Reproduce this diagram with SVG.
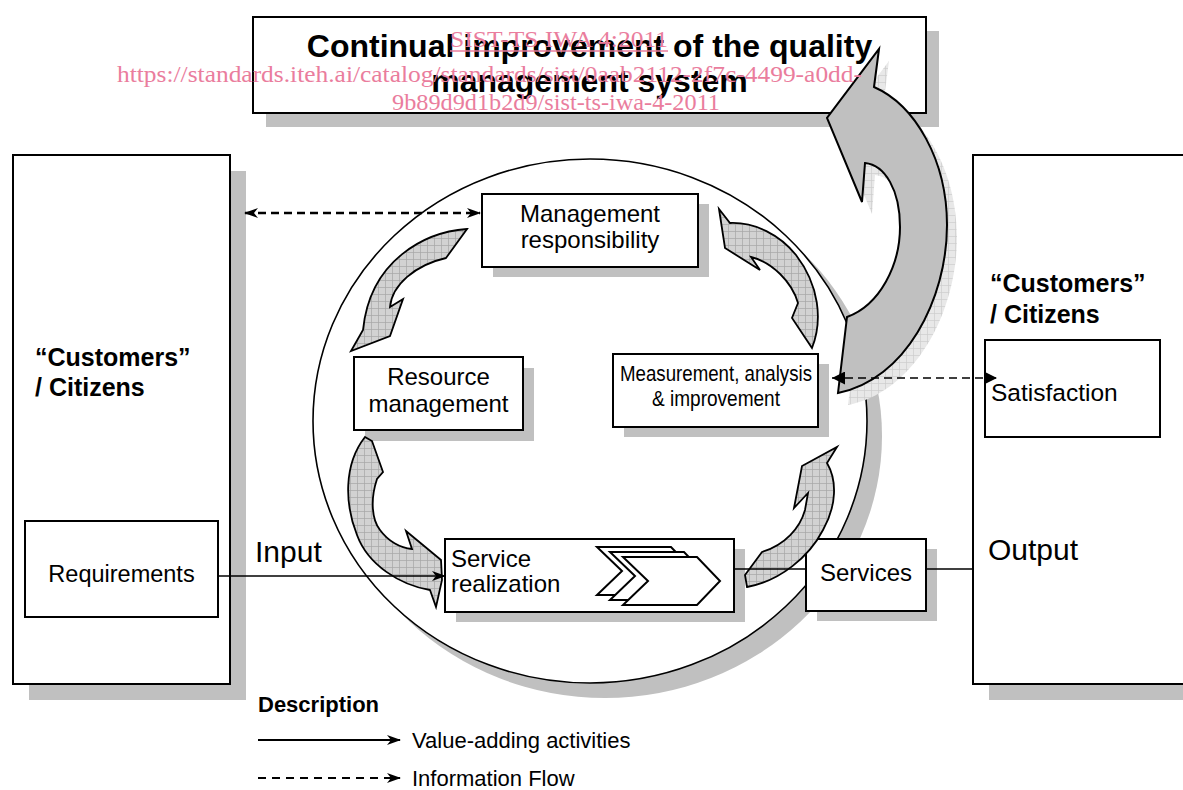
<svg xmlns="http://www.w3.org/2000/svg" width="1183" height="790" viewBox="0 0 1183 790">
<style>
.sh{fill:#c0c0c0;stroke:none}
.bx{fill:#fff;stroke:#000;stroke-width:2}
.t{font-family:"Liberation Sans",Arial,sans-serif;fill:#000}
.b{font-weight:bold}
.ca{fill:url(#chk);stroke:#000;stroke-width:1.8;stroke-linejoin:miter}
.wm{font-family:"Liberation Serif","Times New Roman",serif;fill:#ea7d9d;font-size:24px}
.con{fill:none;stroke:#000}
</style>
<defs>
<pattern id="chk" width="7" height="7" patternUnits="userSpaceOnUse">
<rect width="7" height="7" fill="#d2d2d2"/>
<path d="M0,0.5H7M0.5,0V7" stroke="#a6a6a6" stroke-width="0.7"/>
</pattern>
<pattern id="chkl" width="7" height="7" patternUnits="userSpaceOnUse">
<rect width="7" height="7" fill="#e8e8e8"/>
<path d="M0,0.5H7M0.5,0V7" stroke="#cdcdcd" stroke-width="0.7"/>
</pattern>
<marker id="st" viewBox="0 0 14 10" refX="13" refY="5" markerWidth="14" markerHeight="10" markerUnits="userSpaceOnUse" orient="auto-start-reverse"><path d="M0,0 L14,5 L0,10 L4,5 Z" fill="#000"/></marker>
<marker id="tri" viewBox="0 0 13 13" refX="13" refY="6.5" markerWidth="13" markerHeight="13" markerUnits="userSpaceOnUse" orient="auto-start-reverse"><path d="M0,0 L13,6.5 L0,13 Z" fill="#000"/></marker>
</defs>

<g id="title">
<rect class="sh" x="266" y="31" width="673" height="96"/>
<rect class="bx" x="253" y="17" width="673" height="96" stroke-width="2.5"/>
<text class="t b" x="589.5" y="57" font-size="32" text-anchor="middle">Continual improvement of the quality</text>
<text class="t b" x="589.5" y="92" font-size="32" text-anchor="middle">management system</text>
</g>

<g id="customers-left">
<rect class="sh" x="29" y="171" width="217" height="529"/>
<rect class="bx" x="13" y="155" width="217" height="529"/>
<text class="t b" x="35" y="366" font-size="25">“Customers”</text>
<text class="t b" x="35" y="396" font-size="25">/ Citizens</text>
</g>
<g id="requirements">
<rect class="bx" x="25" y="521" width="193" height="96" stroke-width="1.5"/>
<text class="t" x="121.5" y="582" font-size="23.5" text-anchor="middle">Requirements</text>
</g>

<g id="customers-right">
<rect class="sh" x="989" y="171" width="230" height="529"/>
<rect class="bx" x="973" y="155" width="230" height="529"/>
<text class="t b" x="990" y="292" font-size="25">“Customers”</text>
<text class="t b" x="990" y="323" font-size="25">/ Citizens</text>
<text class="t" x="988" y="560" font-size="30">Output</text>
</g>
<g id="satisfaction">
<rect class="bx" x="985" y="340" width="175" height="97" stroke-width="1.5"/>
<text class="t" x="991" y="401" font-size="24.5">Satisfaction</text>
</g>

<g id="cycle">
<ellipse class="sh" cx="605" cy="436" rx="277" ry="262"/>
<ellipse cx="590" cy="421" rx="277" ry="262" fill="#fff" stroke="#000" stroke-width="1.6"/>
</g>

<g id="management">
<rect class="sh" x="493" y="204" width="216" height="73"/>
<rect class="bx" x="482" y="194" width="216" height="73"/>
<text class="t" x="590" y="222" font-size="24" text-anchor="middle">Management</text>
<text class="t" x="590" y="248" font-size="24" text-anchor="middle">responsibility</text>
</g>
<g id="resource">
<rect class="sh" x="365" y="368" width="169" height="73"/>
<rect class="bx" x="354" y="357" width="169" height="73"/>
<text class="t" x="438.5" y="385" font-size="24" text-anchor="middle">Resource</text>
<text class="t" x="438.5" y="412" font-size="24" text-anchor="middle">management</text>
</g>
<g id="measurement">
<rect class="sh" x="624" y="364" width="205" height="73"/>
<rect class="bx" x="613" y="354" width="205" height="73"/>
<text class="t" x="620" y="381" font-size="22" textLength="192" lengthAdjust="spacingAndGlyphs">Measurement, analysis</text>
<text class="t" x="652" y="406" font-size="22" textLength="128" lengthAdjust="spacingAndGlyphs">&amp; improvement</text>
</g>
<g id="service-realization">
<rect class="sh" x="456" y="549" width="289" height="73"/>
<rect class="bx" x="445" y="539" width="289" height="73"/>
<text class="t" x="451" y="567" font-size="24">Service</text>
<text class="t" x="451" y="592" font-size="24">realization</text>
<path d="M597,547 L671,547 L694,571 L671,595 L597,595 L622,571 Z" fill="#fff" stroke="#000" stroke-width="2"/>
<path d="M610,552 L684,552 L707,576 L684,600 L610,600 L635,576 Z" fill="#fff" stroke="#000" stroke-width="2"/>
<path d="M623,557 L697,557 L720,581 L697,605 L623,605 L648,581 Z" fill="#fff" stroke="#000" stroke-width="2"/>
</g>
<g id="services">
<rect class="sh" x="817" y="549" width="120" height="72"/>
<rect class="bx" x="806" y="539" width="120" height="72"/>
<text class="t" x="866" y="581" font-size="24" text-anchor="middle">Services</text>
</g>

<g id="cycle-arrows">
<path class="ca" d="M467,229 C425,232 370,260 363,330 L351,351 L390,336 L403,299 L390,307 C392,285 415,265 446,258 Z"/>
<path class="ca" d="M365,437 L372,441 L383,472 L377,479 C370,500 372,520 380,530 C388,541 400,548 412,549 L406,531 L441,560 L442,580 L436,607 L430,590 C400,585 368,565 357,535 C345,505 343,465 365,437 Z"/>
<path class="ca" d="M745,575 L762,552 C785,545 800,528 805,510 L808,493 L794,508 L802,466 L837,447 L827,463 C837,480 837,505 823,530 C809,557 780,581 747,587 Z"/>
<path class="ca" d="M719,209 L725,248 L760,270 L751,257 C772,262 792,282 798,303 L792,318 L812,348 C823,320 819,285 796,255 C780,235 755,222 730,223 Z"/>
</g>

<g id="improvement-arrow">
<path d="M879,49 L874,87 C915,105 947,160 947,225 C947,300 905,380 838,393 L847,317 C880,305 900,265 900,227 C900,190 885,165 865,163 L862,202 L827,118 Z" transform="translate(10,12)" fill="url(#chkl)" stroke="none"/>
<path d="M879,49 L874,87 C915,105 947,160 947,225 C947,300 905,380 838,393 L847,317 C880,305 900,265 900,227 C900,190 885,165 865,163 L862,202 L827,118 Z" fill="#c0c0c0" stroke="#000" stroke-width="2"/>
</g>

<g id="connectors">
<line class="con" x1="245" y1="213" x2="480" y2="213" stroke-width="2.5" stroke-dasharray="8 5" marker-start="url(#st)" marker-end="url(#st)"/>
<line class="con" x1="832" y1="378" x2="997" y2="378" stroke-width="1.6" stroke-dasharray="8 5" marker-start="url(#tri)" marker-end="url(#tri)"/>
<line class="con" x1="218" y1="576" x2="445" y2="576" stroke-width="1.6" marker-end="url(#st)"/>
<line class="con" x1="734" y1="569" x2="806" y2="569" stroke-width="1.6"/>
<line class="con" x1="926" y1="569" x2="973" y2="569" stroke-width="1.6"/>
<text class="t" x="255" y="562" font-size="30">Input</text>
</g>

<g id="legend">
<text class="t b" x="258" y="712" font-size="22">Description</text>
<line class="con" x1="258" y1="740" x2="400" y2="740" stroke-width="2" marker-end="url(#st)"/>
<text class="t" x="412" y="748" font-size="22">Value-adding activities</text>
<line class="con" x1="258" y1="778" x2="400" y2="778" stroke-width="2" stroke-dasharray="8 6" marker-end="url(#st)"/>
<text class="t" x="412" y="786" font-size="22">Information Flow</text>
</g>

<g id="watermark">
<text class="wm" x="450" y="47" textLength="218" lengthAdjust="spacingAndGlyphs">SIST-TS IWA 4:2011</text>
<line x1="450" y1="51" x2="668" y2="51" stroke="#ea7d9d" stroke-width="1.5"/>
<text class="wm" x="117" y="82" textLength="745" lengthAdjust="spacingAndGlyphs">https://standards.iteh.ai/catalog/standards/sist/0aab2112-2f7c-4499-a0dd-</text>
<text class="wm" x="392" y="110" textLength="328" lengthAdjust="spacingAndGlyphs">9b89d9d1b2d9/sist-ts-iwa-4-2011</text>
</g>
</svg>
